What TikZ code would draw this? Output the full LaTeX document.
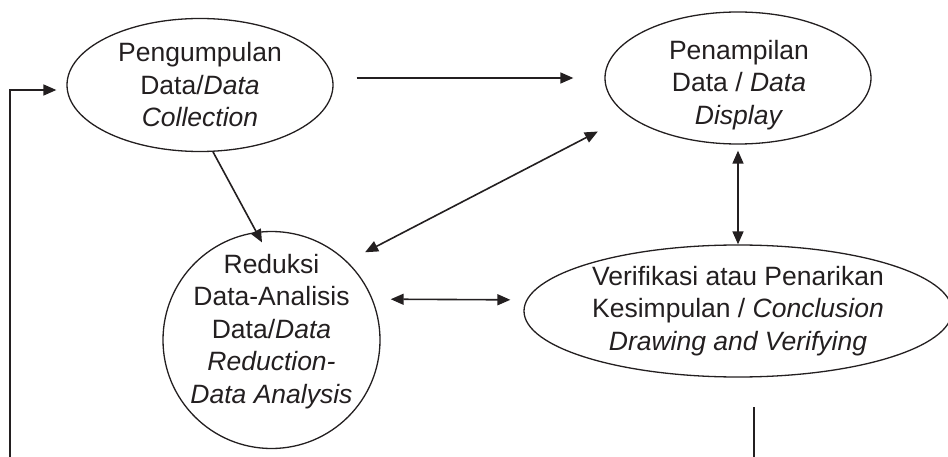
\documentclass[tikz,border=0pt]{standalone}
\usepackage{fontspec}
\setmainfont{Liberation Sans}
\usetikzlibrary{
  arrows.meta,
  shapes.geometric
}
\definecolor{ink}{HTML}{231F20}

\begin{document}
\begin{tikzpicture}[
  x=1pt, y=-1pt,
  >={Triangle[length=13pt,width=11pt]},
  stage/.style={
    ellipse,
    draw=ink,
    line width=1.3pt,
    inner sep=0pt
  },
  caption/.style={
    text=ink,
    align=center,
    font=\fontsize{26.5}{32.5}\selectfont
  },
  flow/.style={draw=ink, line width=1.6pt}
]
\useasboundingbox (0,0) rectangle (948,457);

\node [stage, caption, minimum width=266, minimum height=133] (collect) at (200,85)
  {Pengumpulan\\ Data/\textit{Data}\\ \textit{Collection}};
\node [stage, minimum width=266, minimum height=132] (display) at (738,78) {};
\node [caption] (display-text) at (739,85)
  {Penampilan\\ Data / \textit{Data}\\ \textit{Display}};
\node [stage, circle, minimum size=217] (reduce) at (271.5,340) {};
\node [caption] (reduce-text) at (271.5,331.5)
  {Reduksi\\ Data-Analisis\\ Data/\textit{Data}\\ \textit{Reduction-}\\ \textit{Data Analysis}};
\node [stage, caption, minimum width=428, minimum height=132] (verify) at (738,311)
  {Verifikasi atau Penarikan\\ Kesimpulan / \textit{Conclusion}\\ \textit{Drawing and Verifying}};

\coordinate (loop-bottom) at (10,457);
\coordinate (tail-top) at (754,407);
\coordinate (tail-bottom) at (754,457);

\draw [flow, ->] (loop-bottom) |- ([shift={(-10,5)}]collect.west);
\draw [flow, ->] ([shift={(23,-7)}]collect.east) -- ([xshift=-31pt]display.west);
\draw [flow, ->, shorten >=-12pt] (collect.-79) -- (reduce.98);
\draw [flow, <->, shorten <=34pt, shorten >=20pt] (display.199) -- (reduce.46);
\draw [flow, <->, shorten <=6pt] (display.south) -- (verify.north);
\draw [flow, <->, shorten <=18pt, shorten >=16pt] (reduce.22) -- (verify.177);
\draw [flow] (tail-top) -- (tail-bottom);

\end{tikzpicture}
\end{document}
